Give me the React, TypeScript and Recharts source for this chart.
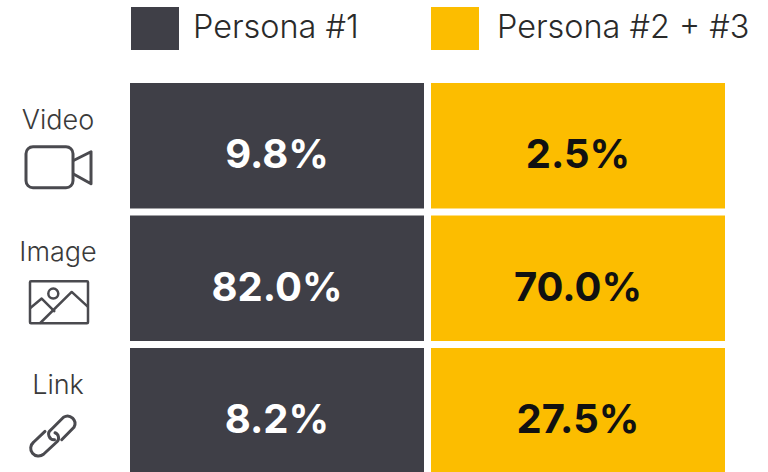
// Таблица форматов контента по персонам: ячейки одинакового размера, подписи из массивов
import { BarChart, Bar, XAxis, YAxis, Legend, LabelList } from 'recharts';

const FORMATS = ['Video', 'Image', 'Link'];
const PERSONA_ONE = [9.8, 82.0, 8.2];
const PERSONA_TWO = [2.5, 70.0, 27.5];

const DARK = '#3f3f47';
const YELLOW = '#fcbd00';
const ICON = '#4a4a4f';
const FONT = 'Inter, sans-serif';

const data = FORMATS.map((name, i) => ({
  name,
  persona1: PERSONA_ONE[i],
  persona2: PERSONA_TWO[i],
  cell1: 1,
  cell2: 1,
}));

const LEGEND_X = [131, 431];

function FormatIcon({ name }: { name: string }) {
  const common = { fill: 'none', stroke: ICON, strokeWidth: 2.5, strokeLinejoin: 'round' as const };
  if (name === 'Video') {
    return (
      <g {...common} strokeWidth={3}>
        <rect x={-32} y={1} width={47} height={41} rx={7} />
        <path d="M15 15 L33 6 L33 38 L15 28" />
      </g>
    );
  }
  if (name === 'Image') {
    return (
      <g {...common}>
        <rect x={-28} y={3} width={58} height={42} rx={1} />
        <circle cx={-4.7} cy={15.3} r={5} />
        <path d="M-28 30 L-16.3 20.3 L-3 33.7" />
        <path d="M-18 45 L13.7 13.7 L30 28.7" />
      </g>
    );
  }
  return (
    <g {...common} strokeWidth={3} strokeLinecap="round">
      <path d="M-13 20.7 L-24.5 31.5 A7.5 7.5 0 0 0 -14.5 43.5 L-1 31 A5.5 5.5 0 0 0 -3 22" />
      <path d="M-3.5 29 A5.5 5.5 0 0 1 -7 19 L5.5 6.5 A7.5 7.5 0 0 1 16 16.5 L3.7 29" />
    </g>
  );
}

function FormatTick({ y, payload }: any) {
  const cx = 58;
  return (
    <g>
      <text x={cx} y={y - 17} textAnchor="middle" fontFamily={FONT} fontWeight={300} fontSize={27} fill="#3a3a3a">
        {payload.value}
      </text>
      <g transform={`translate(${cx},${y})`}>
        <FormatIcon name={payload.value} />
      </g>
    </g>
  );
}

function PersonaLegend({ payload }: any) {
  return (
    <div style={{ position: 'relative', height: 0 }}>
      {(payload ?? []).map((entry: any, i: number) => (
        <div key={entry.value} style={{ position: 'absolute', left: LEGEND_X[i], top: 7, height: 43, display: 'flex', alignItems: 'center', whiteSpace: 'nowrap' }}>
          <span style={{ width: 48, height: 43, background: entry.color, display: 'block' }} />
          <span style={{ marginLeft: i === 0 ? 14 : 18, marginTop: -5, fontFamily: FONT, fontWeight: 300, fontSize: 32.4, color: '#2a2a2a' }}>{entry.value}</span>
        </div>
      ))}
    </div>
  );
}

const percent = (v: any) => `${Number(v).toFixed(1)}%`;

export default function App() {
  return (
    <div style={{ position: 'absolute', left: 0, top: 0, width: 768, height: 472, overflow: 'hidden', background: '#fff' }}>
      <BarChart
        width={768}
        height={480}
        data={data}
        layout="vertical"
        barCategoryGap={0}
        margin={{ top: 79.5, right: 39.5, bottom: 3, left: 0 }}
      >
        <XAxis type="number" domain={[0, 2]} hide />
        <YAxis
          type="category"
          dataKey="name"
          width={126.5}
          axisLine={false}
          tickLine={false}
          tick={<FormatTick />}
        />
        <Legend
          verticalAlign="top"
          align="left"
          content={<PersonaLegend />}
          wrapperStyle={{ left: 0, top: 0, width: 768, height: 0 }}
        />
        <Bar dataKey="cell1" name="Persona #1" stackId="a" fill={DARK} stroke="#fff" strokeWidth={7} isAnimationActive={false}>
          <LabelList dataKey="persona1" position="center" dy={8} formatter={percent} fill="#fff" fontFamily={FONT} fontWeight={700} fontSize={40} />
        </Bar>
        <Bar dataKey="cell2" name="Persona #2 + #3" stackId="a" fill={YELLOW} stroke="#fff" strokeWidth={7} isAnimationActive={false}>
          <LabelList dataKey="persona2" position="center" dy={8} formatter={percent} fill="#111" fontFamily={FONT} fontWeight={700} fontSize={40} />
        </Bar>
      </BarChart>
    </div>
  );
}
